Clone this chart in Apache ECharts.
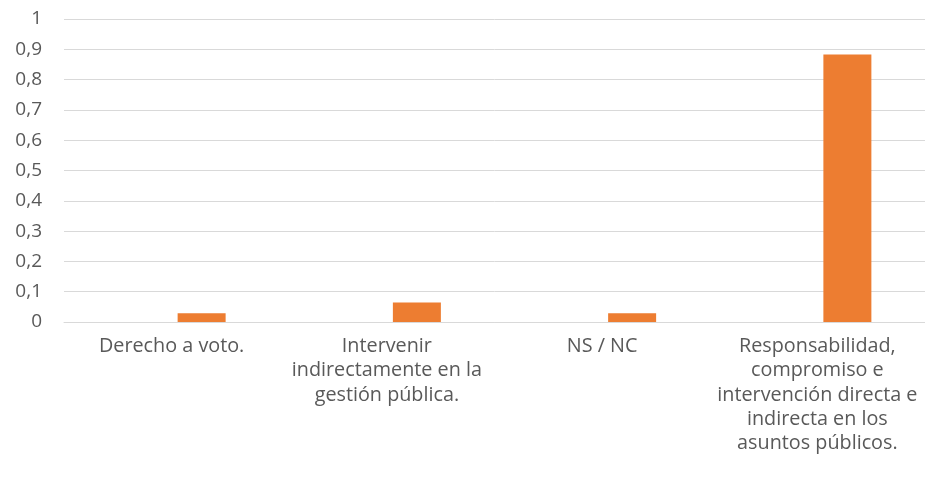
<!DOCTYPE html>
<html>
<head>
<meta charset="utf-8">
<script src="https://cdn.jsdelivr.net/npm/echarts@6/dist/echarts.min.js"></script>
<style>
  html, body { margin: 0; padding: 0; background: #fff; }
  #chart-container { width: 925px; height: 481px; }
</style>
</head>
<body>
<div id="chart-container"></div>
<script>
const categories = [
  "Derecho a voto.",
  "Intervenir\nindirectamente en la\ngestión pública.",
  "NS / NC",
  "Responsabilidad,\ncompromiso e\nintervención directa e\nindirecta en los\nasuntos públicos.",
];
const emptySeries = [0, 0, 0, 0];
const values = [0.029, 0.064, 0.029, 0.883];

const dom = document.getElementById("chart-container");
const myChart = echarts.init(dom, null, { renderer: "canvas" });

const labelFont = "'Open Sans', 'Liberation Sans', sans-serif";

const option = {
  backgroundColor: "#ffffff",
  animation: false,
  grid: { left: 64, right: 0, top: 19, bottom: 159 },
  xAxis: {
    type: "category",
    data: categories,
    axisLine: { lineStyle: { color: "#d9d9d9", width: 1 } },
    axisTick: { show: false },
    axisLabel: {
      color: "#595959",
      fontFamily: labelFont,
      fontSize: 19.8,
      lineHeight: 24.4,
      margin: 12,
      interval: 0,
      verticalAlign: "top",
    },
  },
  yAxis: {
    type: "value",
    min: 0,
    max: 1,
    interval: 0.1,
    axisLine: { show: false },
    axisTick: { show: false },
    splitLine: { lineStyle: { color: "#d9d9d9", width: 1 } },
    axisLabel: {
      color: "#595959",
      fontFamily: labelFont,
      fontSize: 19,
      margin: 22,
      formatter: (v) => String(Math.round(v * 10) / 10).replace(".", ","),
    },
  },
  series: [
    {
      type: "bar",
      data: emptySeries,
      barWidth: 48,
      barGap: "25%",
      itemStyle: { color: "#4472c4" },
    },
    {
      type: "bar",
      data: values,
      barWidth: 48,
      barGap: "25%",
      itemStyle: { color: "#ed7d31" },
    },
  ],
};

myChart.setOption(option);
window.addEventListener("resize", myChart.resize);
</script>
</body>
</html>
